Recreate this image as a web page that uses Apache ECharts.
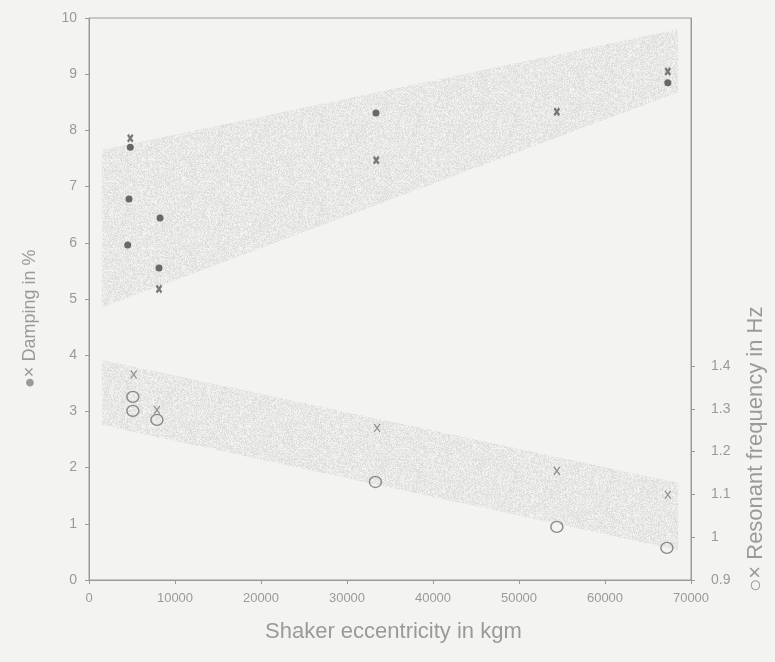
<!DOCTYPE html>
<html>
<head>
<meta charset="utf-8">
<script src="https://cdn.jsdelivr.net/npm/echarts@6/dist/echarts.min.js"></script>
<style>
  html, body { margin: 0; padding: 0; background: #f3f3f1; }
  #chart { width: 775px; height: 662px; }
</style>
</head>
<body>
<div id="chart"></div>
<script>
// Shaker eccentricity (kgm) on x; damping (%) on the left axis, resonant frequency (Hz) on the right.
const xTicks = [0, 10000, 20000, 30000, 40000, 50000, 60000, 70000];
const dampingTicks = [0, 1, 2, 3, 4, 5, 6, 7, 8, 9, 10];
const freqTicks = [0.9, 1, 1.1, 1.2, 1.3, 1.4];

// Damping measurements: filled dots and crosses
const dampingDotX = [4500, 4650, 4800, 8140, 8260, 33370, 67300];
const dampingDotY = [5.96, 6.78, 7.70, 5.55, 6.44, 8.31, 8.85];
const dampingCrossX = [4800, 8140, 33400, 54400, 67300];
const dampingCrossY = [7.86, 5.18, 7.47, 8.33, 9.05];

// Resonant frequency measurements: open circles and crosses
const freqCircleX = [5100, 5100, 7900, 33300, 54400, 67200];
const freqCircleY = [1.328, 1.295, 1.274, 1.129, 1.024, 0.975];
const freqCrossX = [5200, 7900, 33500, 54400, 67300];
const freqCrossY = [1.380, 1.297, 1.255, 1.155, 1.099];

// Scatter bands (start and end of each band)
const bandX = [1500, 68500];
const dampingBandTop = [7.65, 9.80];
const dampingBandBottom = [4.85, 8.68];
const freqBandTop = [1.414, 1.127];
const freqBandBottom = [1.262, 0.970];

const zip = (xs, ys) => xs.map((x, i) => [x, ys[i]]);

// grainy grey texture for the shaded bands
function grainPattern() {
  const c = document.createElement('canvas');
  c.width = 97; c.height = 89;
  const ctx = c.getContext('2d');
  const img = ctx.createImageData(c.width, c.height);
  let s = 12345;
  for (let i = 0; i < c.width * c.height; i++) {
    s = (s * 1103515245 + 12345) & 0x7fffffff;
    const r = (s >> 8) & 255;
    let g = 205 + Math.floor(r / 255 * 45);
    if (r > 238) g -= 45;
    img.data[i * 4] = g; img.data[i * 4 + 1] = g; img.data[i * 4 + 2] = g;
    img.data[i * 4 + 3] = 255;
  }
  ctx.putImageData(img, 0, 0);
  return c;
}
const grain = grainPattern();

function bandSeries(top, bottom, yAxisIndex) {
  return {
    type: 'custom',
    yAxisIndex: yAxisIndex,
    silent: true,
    z: 1,
    data: [[bandX[0], top[0], bottom[0], bandX[1], top[1], bottom[1]]],
    renderItem: function (params, api) {
      const p1 = api.coord([api.value(0), api.value(1)]);
      const p2 = api.coord([api.value(3), api.value(4)]);
      const p3 = api.coord([api.value(3), api.value(5)]);
      const p4 = api.coord([api.value(0), api.value(2)]);
      return {
        type: 'polygon',
        shape: { points: [p1, p2, p3, p4] },
        style: { fill: { image: grain, repeat: 'repeat' }, opacity: 0.62 }
      };
    }
  };
}

const crossPath = 'path://M0,0 L10,12 M10,0 L0,12';
const textColor = '#9a9a9a';
const lineColor = '#9a9a9a';
const font = "'Liberation Sans Narrow', 'Liberation Sans', Arial, sans-serif";

const chart = echarts.init(document.getElementById('chart'));
chart.setOption({
  backgroundColor: '#f3f3f1',
  animation: false,
  grid: {
    left: 89, right: 84, top: 18, bottom: 82,
    show: true, borderColor: lineColor, borderWidth: 1,
    backgroundColor: 'transparent'
  },
  xAxis: {
    type: 'value', min: xTicks[0], max: xTicks[xTicks.length - 1], interval: 10000,
    axisLine: { lineStyle: { color: lineColor } },
    axisTick: { show: true, length: 4, lineStyle: { color: lineColor } },
    splitLine: { show: false },
    axisLabel: { color: textColor, fontSize: 13, fontFamily: font, margin: 12,
      formatter: v => String(v) }
  },
  yAxis: [{
    type: 'value', min: 0, max: 10, interval: 1,
    axisLine: { show: true, lineStyle: { color: lineColor } },
    axisTick: { show: true, length: 4, lineStyle: { color: lineColor } },
    splitLine: { show: false },
    axisLabel: { color: textColor, fontSize: 14, fontFamily: font, margin: 12,
      customValues: dampingTicks }
  }, {
    type: 'value', min: 0.9, max: 2.213, position: 'right',
    axisLine: { show: true, lineStyle: { color: lineColor } },
    axisTick: { show: true, length: 4, lineStyle: { color: lineColor }, customValues: freqTicks },
    splitLine: { show: false },
    axisLabel: { color: textColor, fontSize: 14, fontFamily: font, margin: 20,
      customValues: freqTicks }
  }],
  graphic: [{
    type: 'text', rotation: Math.PI / 2, position: [21, 388],
    style: { text: '●× Damping in %', fill: '#9a9a9a', font: "18px " + font }
  }, {
    type: 'text', rotation: Math.PI / 2, position: [745, 592],
    style: { text: '○× Resonant frequency in Hz', fill: '#9a9a9a', font: "22px " + font }
  }, {
    type: 'text', position: [265, 621],
    style: { text: 'Shaker eccentricity in kgm', fill: '#9a9a9a', font: "22px " + font }
  }],
  series: [
    bandSeries(dampingBandTop, dampingBandBottom, 0),
    bandSeries(freqBandTop, freqBandBottom, 1),
    {
      type: 'scatter', yAxisIndex: 0, z: 5, symbol: 'circle', symbolSize: 7,
      itemStyle: { color: '#5a5a5a', opacity: 0.9 },
      data: zip(dampingDotX, dampingDotY)
    }, {
      type: 'scatter', yAxisIndex: 0, z: 5, symbol: crossPath, symbolSize: [5, 7],
      itemStyle: { color: 'none', borderColor: '#5a5a5a', borderWidth: 2.4 },
      data: zip(dampingCrossX, dampingCrossY)
    }, {
      type: 'scatter', yAxisIndex: 1, z: 5, symbol: 'circle', symbolSize: [12, 11],
      itemStyle: { color: 'transparent', borderColor: '#707070', borderWidth: 1.4 },
      data: zip(freqCircleX, freqCircleY)
    }, {
      type: 'scatter', yAxisIndex: 1, z: 5, symbol: crossPath, symbolSize: [6, 8],
      itemStyle: { color: 'none', borderColor: '#7a7a7a', borderWidth: 1.3 },
      data: zip(freqCrossX, freqCrossY)
    }
  ]
});
</script>
</body>
</html>
